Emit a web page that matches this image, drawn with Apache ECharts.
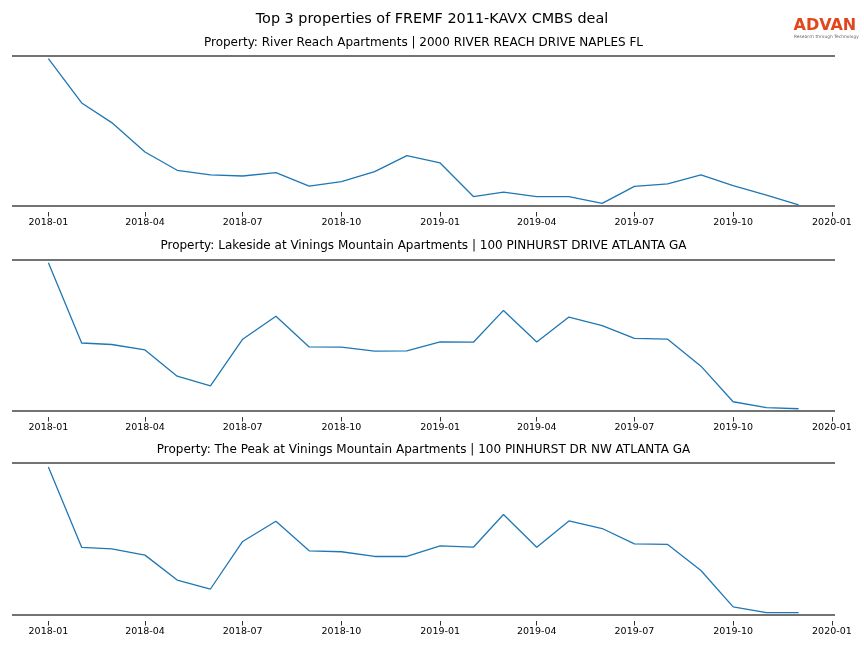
<!DOCTYPE html>
<html><head><meta charset="utf-8">
<script src="https://cdn.jsdelivr.net/npm/echarts@6/dist/echarts.min.js"></script>
<style>html,body{margin:0;padding:0;background:#fff}#c{width:864px;height:648px}</style>
</head><body><div id="c"></div>
<script>
// ---- data ----
const months = ['2018-01','2018-02','2018-03','2018-04','2018-05','2018-06','2018-07','2018-08','2018-09','2018-10','2018-11','2018-12',
                '2019-01','2019-02','2019-03','2019-04','2019-05','2019-06','2019-07','2019-08','2019-09','2019-10','2019-11','2019-12'];
const riverReach = [98.3,68.7,55.6,36.0,23.8,20.7,20.0,22.3,13.3,16.3,22.9,33.6,
                    28.7,6.3,9.3,6.3,6.3,1.8,13.1,14.7,20.7,13.6,7.3,0.7];
const lakesideVinings = [97.8,44.9,43.9,40.3,23.0,16.6,47.4,62.5,42.3,42.1,39.5,39.7,
                         45.6,45.4,66.4,45.6,62.0,56.4,48.0,47.4,29.6,6.1,2.2,1.5];
const peakVinings = [97.4,44.5,43.5,39.4,23.0,17.1,48.4,61.7,42.2,41.6,38.5,38.5,
                     45.5,44.6,66.1,44.6,61.9,56.9,46.8,46.4,29.3,5.3,1.5,1.5];
const tickLabels = ['2018-01','2018-04','2018-07','2018-10','2019-01','2019-04','2019-07','2019-10','2020-01'];
const mainTitle = 'Top 3 properties of FREMF 2011-KAVX CMBS deal';
const subTitles = [
  'Property: River Reach Apartments | 2000 RIVER REACH DRIVE NAPLES FL',
  'Property: Lakeside at Vinings Mountain Apartments | 100 PINHURST DRIVE ATLANTA GA',
  'Property: The Peak at Vinings Mountain Apartments | 100 PINHURST DR NW ATLANTA GA'
];
const seriesList = [riverReach, lakesideVinings, peakVinings];

// ---- chart ----
// x positions are day counts since 2018-01-01 (UTC), so tick spacing follows the calendar
function dayNum(s){ const p = s.split('-'); return (Date.UTC(+p[0], +p[1]-1, 1) - Date.UTC(2018,0,1)) / 86400000; }
const tickDays = tickLabels.map(dayNum);
const xMin = dayNum(months[0]) - 33.9;
const xMax = dayNum(months[months.length-1]) + 33.9;
function dayLabel(v){
  const d = new Date(Date.UTC(2018,0,1) + Math.round(v)*86400000);
  const m = d.getUTCMonth()+1; return d.getUTCFullYear()+'-'+(m<10?'0':'')+m;
}
const FONT = 'DejaVu Sans';
const gridTops = [56, 259.5, 463];
const gridHeights = [150, 151.5, 152];

const grids = [], xAxes = [], yAxes = [], series = [], titles = [];
titles.push({text: mainTitle, left: 'center', top: 7.5,
  textStyle:{fontFamily: FONT, fontSize: 14.4, fontWeight: 'normal', color:'#000'}});
for (let i=0;i<3;i++){
  grids.push({left: 12, width: 823, top: gridTops[i], height: gridHeights[i]});
  titles.push({text: subTitles[i], left: 423.5, textAlign: 'center', top: gridTops[i]-19.5, padding: 0,
    textStyle:{fontFamily: FONT, fontSize: 12, fontWeight:'normal', color:'#000'}});
  xAxes.push({type:'value', gridIndex:i, min:xMin, max:xMax, offset:6,
    axisLine:{show:false, onZero:false},
    axisTick:{show:true, customValues: tickDays, length:4.5, lineStyle:{color:'#333', width:1}},
    axisLabel:{show:true, customValues: tickDays, fontFamily: FONT, fontSize: 9.5, color:'#000', margin:6,
      formatter: dayLabel, showMinLabel:true, showMaxLabel:true},
    splitLine:{show:false}});
  yAxes.push({type:'value', gridIndex:i, min:0, max:100, interval:100,
    axisLine:{show:false}, axisTick:{show:false}, axisLabel:{show:false},
    splitLine:{show:true, lineStyle:{color:'#444', width:1.6}}});
  series.push({type:'line', xAxisIndex:i, yAxisIndex:i, symbol:'none', animation:false,
    lineStyle:{color:'#1f77b4', width:1.3},
    data: seriesList[i].map((v,k)=>[dayNum(months[k]), v])});
}

const chart = echarts.init(document.getElementById('c'), null, {renderer:'canvas'});
chart.setOption({
  animation:false,
  title: titles,
  grid: grids, xAxis: xAxes, yAxis: yAxes, series: series,
  graphic: [
    {type:'text', left: 793.5, top: 17.5, style:{text:'ADVAN', fontFamily: FONT, fontSize: 16, fontWeight:'bold', fill:'#E2471B'}},
    {type:'text', left: 794, top: 35, style:{text:'Research through Technology', fontFamily: FONT, fontSize: 4.4, fill:'#666'}}
  ]
});
</script></body></html>
